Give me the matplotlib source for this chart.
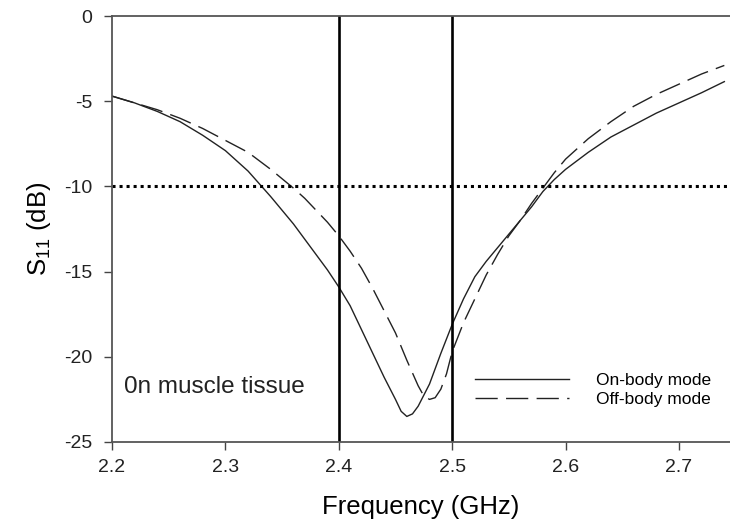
"""S11 vs frequency, on-body vs off-body mode."""
import matplotlib
matplotlib.use("Agg")
import matplotlib.pyplot as plt

plt.rcParams["font.family"] = ["Liberation Sans", "DejaVu Sans"]
plt.rcParams["mathtext.fontset"] = "custom"
plt.rcParams["mathtext.rm"] = "Liberation Sans"

freq_on = [2.20, 2.22, 2.24, 2.26, 2.28, 2.30, 2.32, 2.34, 2.36, 2.38, 2.39,
           2.40, 2.41, 2.42, 2.43, 2.44, 2.45, 2.455, 2.46, 2.465, 2.47, 2.48,
           2.49, 2.50, 2.51, 2.52, 2.53, 2.54, 2.55, 2.56, 2.57, 2.58, 2.59,
           2.60, 2.62, 2.64, 2.66, 2.68, 2.70, 2.72, 2.74]
s11_on = [-4.7, -5.1, -5.6, -6.2, -7.0, -7.9, -9.1, -10.6, -12.2, -14.0, -14.9,
          -15.9, -17.0, -18.4, -19.8, -21.2, -22.5, -23.2, -23.5, -23.35, -22.9, -21.6,
          -19.8, -18.1, -16.6, -15.3, -14.4, -13.6, -12.8, -12.0, -11.2, -10.3, -9.6,
          -9.0, -8.0, -7.1, -6.4, -5.7, -5.1, -4.5, -3.85]

freq_off = [2.20, 2.22, 2.24, 2.26, 2.28, 2.30, 2.32, 2.34, 2.36, 2.37, 2.38,
            2.39, 2.40, 2.41, 2.42, 2.43, 2.44, 2.45, 2.46, 2.47, 2.475, 2.48,
            2.485, 2.49, 2.495, 2.50, 2.51, 2.52, 2.53, 2.54, 2.55, 2.56, 2.57,
            2.58, 2.59, 2.60, 2.62, 2.64, 2.66, 2.68, 2.70, 2.72, 2.74]
s11_off = [-4.7, -5.1, -5.5, -6.0, -6.6, -7.3, -8.0, -9.0, -10.1, -10.7, -11.4,
           -12.1, -12.9, -13.8, -14.8, -16.0, -17.3, -18.6, -20.2, -21.7, -22.3, -22.5,
           -22.4, -21.9, -21.0, -19.7, -18.0, -16.6, -15.2, -14.0, -12.9, -12.0, -11.0,
           -10.1, -9.2, -8.4, -7.2, -6.2, -5.3, -4.6, -4.0, -3.4, -2.9]

band_edges = [2.4, 2.5]
threshold = -10
xticks = [2.2, 2.3, 2.4, 2.5, 2.6, 2.7]
yticks = [0, -5, -10, -15, -20, -25]

fig = plt.figure(figsize=(7.3, 5.27), dpi=100)
ax = fig.add_axes([0.1534, 0.1613, 0.8466, 0.8083])

ax.plot(freq_on, s11_on, color="#222222", lw=1.0, label="On-body mode")
ax.plot(freq_off, s11_off, color="#222222", lw=1.0, dashes=(16, 6), label="Off-body mode")
for f in band_edges:
    ax.axvline(f, color="black", lw=1.9)
ax.axhline(threshold, color="black", lw=2.2, ls=(0, (1, 1.3)))

ax.set_xlim(2.2, 2.745)
ax.set_ylim(-25, 0)
ax.set_xticks(xticks)
ax.set_xticklabels([f"{t:g}" for t in xticks])
ax.set_yticks(yticks)
ax.set_yticklabels([f"{t:g}" for t in yticks])
ax.tick_params(direction="out", length=6, width=1, color="#444444",
               labelsize=14, labelcolor="#222222", pad=6)
ax.tick_params(axis="y", pad=8)
ax.spines["right"].set_visible(False)
for s in ("left", "bottom", "top"):
    ax.spines[s].set_color("#555555")
    ax.spines[s].set_linewidth(1.3)

ax.set_xlabel("Frequency (GHz)", fontsize=18.5, labelpad=14)
ax.set_ylabel(r"S$_{\mathregular{11}}$ (dB)", fontsize=18.5, labelpad=8)

ax.text(2.211, -21.8, "0n muscle tissue", fontsize=17.5, color="#222222", va="center")
ax.legend(loc="lower left", bbox_to_anchor=(0.562, 0.045), frameon=False, fontsize=12.5,
          handlelength=5.4, handletextpad=1.6, labelspacing=0.25)

fig.savefig("out.png", dpi=100)
